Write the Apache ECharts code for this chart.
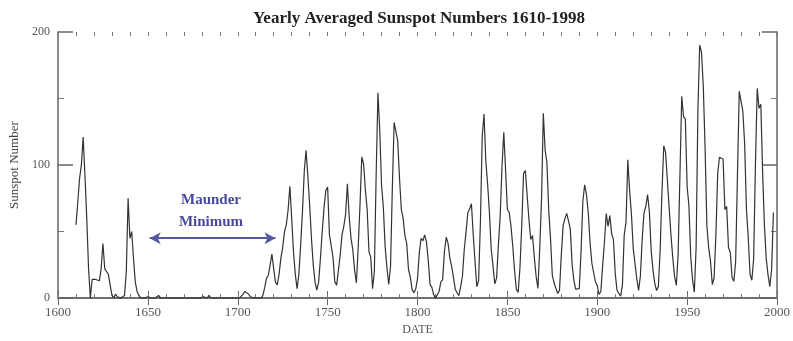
<!DOCTYPE html>
<html>
<head>
<meta charset="utf-8">
<script src="https://cdn.jsdelivr.net/npm/echarts@6/dist/echarts.min.js"></script>
<style>
  html, body { margin: 0; padding: 0; background: #fff; }
  #chart { width: 793px; height: 341px; }
</style>
</head>
<body>
<div id="chart"></div>
<script>
// yearly averaged sunspot numbers, 1610 .. 1998 (one value per year)
const firstYear = 1610;
const sunspots = [
  55, 72, 90, 100, 121, 92, 60, 22, 0, 14,          // 1610
  14, 14, 14, 13, 22, 41, 22, 20, 18, 10,            // 1620
  2, 0, 3, 1, 0, 0, 0, 2, 20, 75,                    // 1630
  45, 50, 30, 12, 5, 2, 0, 0, 0, 0,                  // 1640
  1, 0, 0, 1, 0, 0, 2, 0, 0, 0,                      // 1650
  1, 0, 0, 0, 0, 0, 0, 0, 0, 0,                      // 1660
  0, 0, 1, 0, 0, 0, 1, 0, 0, 0,                      // 1670
  0, 1, 0, 0, 2, 0, 0, 0, 0, 0,                      // 1680
  0, 0, 0, 0, 0, 0, 0, 0, 0, 0,                      // 1690
  0, 0, 1, 3, 5, 5, 3, 1, 0, 0,                      // 1700
  0, 0, 0, 0, 2, 8, 15, 17, 25, 33,                  // 1710
  22, 12, 10, 18, 30, 38, 50, 55, 66, 84,            // 1720
  60, 35, 18, 7, 18, 40, 65, 95, 111, 92,            // 1730
  70, 45, 25, 12, 6, 12, 30, 50, 68, 80.9,           // 1740
  83.4, 47.7, 47.8, 30.7, 12.2, 9.6, 10.2, 32.4, 47.6, 54.0,   // 1750
  62.9, 85.9, 61.2, 45.1, 36.4, 20.9, 11.4, 37.8, 69.8, 106.1, // 1760
  100.8, 81.6, 66.5, 34.8, 30.6, 7.0, 19.8, 92.5, 154.4, 125.9,// 1770
  84.8, 68.1, 38.5, 22.8, 10.2, 24.1, 82.9, 132.0, 130.9, 118.1, // 1780
  89.9, 66.6, 60.0, 46.9, 41.0, 21.3, 16.0, 6.4, 4.1, 6.8,     // 1790
  14.5, 34.0, 45.0, 43.1, 47.5, 42.2, 28.1, 10.1, 8.1, 2.5,    // 1800
  0.0, 1.4, 5.0, 12.2, 13.9, 35.4, 45.8, 41.1, 30.1, 23.9,     // 1810
  15.6, 6.6, 4.0, 1.8, 8.5, 16.6, 36.3, 49.6, 64.2, 67.0,      // 1820
  70.9, 47.8, 27.5, 8.5, 13.2, 56.9, 121.5, 138.3, 103.2, 85.7,// 1830
  64.6, 36.7, 24.2, 10.7, 15.0, 40.1, 61.5, 98.5, 124.7, 96.3, // 1840
  66.6, 64.5, 54.1, 39.0, 20.6, 6.7, 4.3, 22.7, 54.8, 93.8,    // 1850
  95.8, 77.2, 59.1, 44.0, 47.0, 30.5, 16.3, 7.3, 37.6, 74.0,   // 1860
  139.0, 111.2, 101.6, 66.2, 44.7, 17.0, 11.3, 12.4, 3.4, 6.0, // 1870
  32.3, 54.3, 59.7, 63.7, 63.5, 52.2, 25.4, 13.1, 6.8, 6.3,    // 1880
  7.1, 35.6, 73.0, 85.1, 78.0, 64.0, 41.8, 26.2, 26.7, 12.1,   // 1890
  9.5, 2.7, 5.0, 24.4, 42.0, 63.5, 53.8, 62.0, 48.5, 43.9,     // 1900
  18.6, 5.7, 3.6, 1.4, 9.6, 47.4, 57.1, 103.9, 80.6, 63.6,     // 1910
  37.6, 26.1, 14.2, 5.8, 16.7, 44.3, 63.9, 69.0, 77.8, 64.9,   // 1920
  35.7, 21.2, 11.1, 5.7, 8.7, 36.1, 79.7, 114.4, 109.6, 88.8,  // 1930
  67.8, 47.5, 30.6, 16.3, 9.6, 33.2, 92.6, 151.6, 136.3, 134.7,// 1940
  83.9, 69.4, 31.5, 13.9, 4.4, 38.0, 141.7, 190.2, 184.8, 159.0, // 1950
  112.3, 53.9, 37.5, 27.9, 10.2, 15.1, 47.0, 93.8, 105.9, 105.5, // 1960
  104.5, 66.6, 68.9, 38.0, 34.5, 15.5, 12.6, 27.5, 92.5, 155.4,  // 1970
  154.6, 140.4, 115.9, 66.6, 45.9, 17.9, 13.4, 29.4, 100.2, 157.6, // 1980
  142.6, 145.7, 94.3, 54.6, 29.9, 17.5, 8.6, 21.5, 64.3            // 1990
];
const years = sunspots.map((v, i) => firstYear + i);

const xTicks = [1600, 1650, 1700, 1750, 1800, 1850, 1900, 1950, 2000];
const yTicks = [0, 100, 200];
const maunderSpan = [1651, 1721];
const maunderLevel = 45;

const serif = '"Liberation Serif", "DejaVu Serif", serif';
const axisGray = '#666';

const chart = echarts.init(document.getElementById('chart'));

const baseX = {
  type: 'value',
  min: xTicks[0],
  max: xTicks[xTicks.length - 1],
  interval: 50,
  axisLine: { show: true, lineStyle: { color: axisGray, width: 1.5 } },
  axisTick: { show: true, inside: true, length: 7, lineStyle: { color: axisGray } },
  splitLine: { show: false }
};
// 10-year minor ticks, drawn by a bare axis on the same edge
const minorX = {
  type: 'value',
  min: xTicks[0],
  max: xTicks[xTicks.length - 1],
  interval: 10,
  axisLine: { show: false },
  axisLabel: { show: false },
  axisTick: { show: true, inside: true, length: 4, lineStyle: { color: '#777' } },
  splitLine: { show: false }
};
const baseY = {
  type: 'value',
  min: yTicks[0],
  max: yTicks[yTicks.length - 1],
  interval: 100,
  axisLine: { show: true, lineStyle: { color: axisGray, width: 1.5 } },
  axisTick: { show: true, inside: true, length: 15, lineStyle: { color: axisGray, width: 1.5 } },
  minorTick: { show: true, splitNumber: 2, length: 6, lineStyle: { color: '#777' } },
  splitLine: { show: false }
};

chart.setOption({
  animation: false,
  backgroundColor: '#fff',
  grid: { left: 58, right: 12, top: 32, bottom: 36 },
  xAxis: [
    Object.assign({}, baseX, {
      position: 'bottom',
      name: 'DATE',
      nameLocation: 'middle',
      nameGap: 24,
      nameTextStyle: { fontFamily: serif, fontSize: 12, color: '#555' },
      axisLabel: { fontFamily: serif, fontSize: 13, color: '#555', margin: 8, formatter: v => String(v) }
    }),
    Object.assign({}, baseX, { position: 'top', axisLabel: { show: false } }),
    Object.assign({}, minorX, { position: 'bottom', offset: 0 }),
    Object.assign({}, minorX, { position: 'top', offset: 0 })
  ],
  yAxis: [
    Object.assign({}, baseY, {
      position: 'left',
      name: 'Sunspot Number',
      nameLocation: 'middle',
      nameGap: 36,
      nameRotate: 90,
      nameTextStyle: { fontFamily: serif, fontSize: 13, color: '#444' },
      axisLabel: { fontFamily: serif, fontSize: 12, color: '#555', margin: 8, formatter: v => String(v) }
    }),
    Object.assign({}, baseY, { position: 'right', axisLabel: { show: false } })
  ],
  graphic: [
    {
      type: 'text',
      x: 419, y: 10,
      style: {
        text: 'Yearly Averaged Sunspot Numbers 1610-1998',
        font: 'bold 17px ' + serif,
        fill: '#222',
        textAlign: 'center'
      }
    },
    {
      type: 'text',
      x: 211, y: 189,
      style: {
        text: 'Maunder\nMinimum',
        font: 'bold 15px ' + serif,
        lineHeight: 22,
        fill: '#4a4a9a',
        textAlign: 'center'
      }
    }
  ],
  series: [
    {
      type: 'line',
      xAxisIndex: 0,
      yAxisIndex: 0,
      data: years.map((y, i) => [y, sunspots[i]]),
      showSymbol: false,
      lineStyle: { color: '#333', width: 1.2 },
      markLine: {
        silent: true,
        symbol: ['arrow', 'arrow'],
        symbolSize: [9, 11],
        label: { show: false },
        lineStyle: { color: '#5858a2', width: 2.2, type: 'solid' },
        data: [[
          { coord: [maunderSpan[0], maunderLevel] },
          { coord: [maunderSpan[1], maunderLevel] }
        ]]
      }
    }
  ]
});
</script>
</body>
</html>
